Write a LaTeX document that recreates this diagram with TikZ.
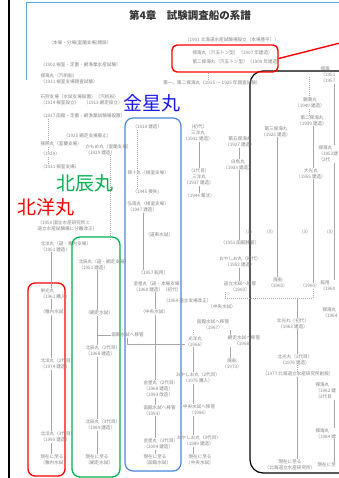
\documentclass[tikz,border=0pt]{standalone}
\usepackage{fontspec}
\newfontfamily\jp{Noto Sans CJK JP}
\usetikzlibrary{arrows.meta}
\definecolor{tc}{HTML}{858585}
\definecolor{lc}{HTML}{A6A6A6}
\definecolor{gr}{HTML}{00B050}
\definecolor{bl}{HTML}{4A86D8}
\definecolor{fb}{HTML}{55AAEE}
\definecolor{kb}{HTML}{1A1AE6}
\begin{document}
\begin{tikzpicture}[x=1pt,y=-1pt,
  t/.style={font=\jp\fontsize{4.6}{6}\selectfont, text=tc, inner sep=0.3pt, align=center},
  tl/.style={t, anchor=west, align=left},
  ln/.style={draw=lc, line width=0.9pt},
  dl/.style={draw=lc, line width=0.8pt, dash pattern=on 1pt off 1pt},
  big/.style={font=\jp\fontsize{19}{19}\selectfont, inner sep=0},
  boxs/.style={rounded corners=8pt, inner sep=0}]
\path[use as bounding box, fill=white] (0,0) rectangle (338,478);
% page frame
\coordinate (fa) at (9,0); \coordinate (fz) at (9,478);
\draw[line width=2pt] (fa) -- (fz);
\coordinate (p1) at (26.5,80); \coordinate (p2) at (26.5,2.5); \coordinate (p3) at (340,2.5);
\draw[fb, line width=1.2pt] (p1) -- (p2) -- (p3);
% coloured boxes
\node[draw=black, line width=1.2pt, boxs, rounded corners=13pt, minimum width=112pt, minimum height=402pt] (kbox) at (306,272) {};
\node[draw=bl, line width=1.2pt, boxs, minimum width=56pt, minimum height=353pt] (bbox) at (153,294.5) {};
\node[draw=gr, line width=1.3pt, boxs, minimum width=48pt, minimum height=240pt] (gbox) at (96,357) {};
\node[draw=red, line width=1.3pt, boxs, rounded corners=7pt, minimum width=37pt, minimum height=193pt] (rbox2) at (46.5,379.5) {};
\node[draw=red, line width=1.4pt, boxs, rounded corners=5pt, minimum width=106pt, minimum height=27pt] (rbox) at (225,58.5) {};
% big labels
\node[big, text=kb] (lk) at (152,103) {金星丸};
\node[big, text=gr] (lh) at (85,183) {北辰丸};
\node[big, text=red] (ly) at (46,207) {北洋丸};
% title and top
\node[font=\jp\bfseries\fontsize{10.5}{11}\selectfont, text=black!80, inner sep=0] (title) at (190,15) {第4章　試験調査船の系譜};
\node[t] (n1901) at (232,40) {（1901 北海道水産試験場設立（本場豊平））};
\node[tl, font=\jp\fontsize{4.6}{9}\selectfont] (tan) at (192,57.5) {探海丸（汽五トン型）（1907 年建造）\\第二探海丸（汽五トン型）（1909 年建造）};
\node[t] (d12) at (212,83) {第一、第二探海丸（1915 ～ 1925 年調査試験）};
% left column
\node[tl] (L1) at (48,43) {（本場・分場(室蘭支場)開設）};
\node[tl] (L2) at (40,65) {（1902 根室・定置・網漁業水産試験）};
\node[tl] (L3) at (40,78.5) {探海丸（汽帆船）\\（1911 根室支場調査試験）};
\node[tl] (L4) at (40,100) {石狩支場（水試支場設置）（汽帆船）\\（1914 根室設立）　（1913 網走設立）};
\node[tl] (L5) at (40,116) {（1917 函館・定置・網漁業試験場設置）};
\node[tl] (L6a) at (40,144) {探照丸（室蘭支場）};
\node[tl] (L6b) at (40,154) {（1929）};
\node[tl] (L6c) at (40,167) {（1931 根室支場）};
\node[tl] (L6d) at (63,136) {（1925 網走支場廃止）};
\node[tl] (L6e) at (85,149.5) {かもめ丸（室蘭支場）\\（1929 建造）};
\node[tl] (L7) at (37,226) {（1950 国立水産研究所と\\道立水産試験場に分離改正）};
\node[tl] (L8) at (40,246.5) {北洋丸（道・稚内支場）\\（1951 建造）};
\node[tl] (L9) at (40,293.5) {栄光丸\\（1961 購入）};
\node[tl] (L10) at (40,312) {（稚内水試）};
\node[tl] (L11) at (40,364) {北洋丸（2代目）\\（1974 建造）};
\node[tl] (L12) at (40,437) {北洋丸（3代目）\\（1995 建造）};
\node[tl] (L13) at (40,460) {現在に至る\\（稚内水試）};
% green column
\node[tl] (G1) at (78,264.5) {北辰丸（道・網走支場）\\（1951 建造）};
\node[tl] (G2) at (85,313) {（網走水試）};
\node[tl] (G3) at (85,351) {北辰丸（2代目）\\（1968 建造）};
\node[tl] (G4) at (85,425) {北辰丸（3代目）\\（1989 建造）};
\node[tl] (G5) at (85,460) {現在に至る\\（網走水試）};
\node[tl] (HK1) at (111,335) {函館水試へ移管};
% blue column
\node[tl] (B1) at (132,127) {（1918 建造）};
\node[tl] (B2) at (127,173) {探十丸（根室支場）};
\node[tl] (B3) at (132,192) {（1945 喪失）};
\node[tl] (B4) at (127,207) {弘南丸（根室支場）\\（1947 建造）};
\node[tl] (B5) at (145,235) {（道東水試）};
\node[tl] (B6) at (138,273) {（1957 転用）};
\node[tl] (B7) at (133,286.5) {金星丸（道・本場支場）\\（1960 建造）（初代）};
\node[tl] (B8) at (163,301) {（1964 道立支場改正）};
\node[tl] (B9) at (140,312) {（中央水試）};
\node[tl] (B10) at (143,389) {金星丸（2代目）\\（1968 建造）\\（1993 改造）};
\node[tl] (B11) at (143,410.5) {函館水試へ移管\\（1993）};
\node[tl] (B12) at (143,444) {金星丸（3代目）\\（2004 建造）};
\node[tl] (B13) at (143,460) {現在に至る\\（函館水試）};
% middle column
\node[t] (M1) at (198,133) {（初代）\\三洋丸\\（1932 建造）};
\node[t] (M2) at (199,177) {（2代目）\\三洋丸\\（1937 建造）};
\node[t] (M3) at (200,196) {（1944 撃沈）};
\node[t] (M4) at (240,142) {第五探海丸\\（1927 建造）};
\node[t] (M5) at (238,164.5) {白鳥丸\\（1933 建造）};
\node[t] (M6) at (240,243) {（1951 函館移管）};
\node[t] (M7) at (240,262) {おやしお丸（初代）\\（1952 建造）};
\node[t] (M8) at (240,286.5) {道立水試へ移管\\（1960）};
\node[t] (M9) at (222,307) {（中央水試）};
\node[t] (M10) at (213,324.5) {函館水試へ移管\\（1967）};
\node[t] (M11) at (195,341.5) {光洋丸\\（1966）};
\node[t] (M12) at (244,341) {網走水試へ移管\\（1968）};
\node[t] (M14) at (232,364) {廃船\\（1973）};
\node[t] (M13) at (198,378) {おやしお丸（2代目）\\（1976 購入）};
\node[t] (M15) at (199,410) {中央水試へ移管\\（1986）};
\node[t] (M16) at (199,441) {おやしお丸（3代目）\\（1989 建造）};
\node[t] (M17) at (200,460) {現在に至る\\（中央水試）};
% black box contents
\node[tl] (K1) at (320,75) {探海\\（1951\\（1957};
\node[t] (K2) at (310,103) {親潮丸\\（1949 建造）};
\node[t] (K3) at (312,120.5) {第二探海丸\\（1939 建造）};
\node[t] (K4) at (276,131.5) {第三探海丸\\（1925 建造）};
\node[t] (K5) at (311,173.5) {大光丸\\（1955 建造）};
\node[tl] (K6) at (318,154) {探海丸\\（1952建\\（2代};
\node[t] (K7) at (278,283) {廃船\\（1960）};
\node[t] (K8) at (310,286) {（1960）};
\node[tl] (K8b) at (320,286) {転用\\（1960};
\node[t] (K9) at (293,323.5) {北光丸（初代）\\（1963 建造）};
\node[t] (K10) at (295,359.5) {北光丸（2代目）\\（1976 建造）};
\node[tl] (K11) at (262,374) {（1977 北海道立水産研究所創設）};
\node[t] (K12) at (290,465) {現在に至る\\（北海道立水産研究所）};
\node[tl] (K13) at (322,313) {探海丸\\（1964};
\node[tl] (K14) at (315,391) {探海丸\\（1962 建\\（2代目};
\node[tl] (K15) at (315,433.5) {探海丸\\（1984 建};
\node[tl] (K16) at (317,465) {現在に至};
\node[t] (s1) at (249,232) {(3)};
\node[t] (s2) at (270,232) {(3)};
\node[t] (s3) at (305,232) {(3)};
\node[t] (s4) at (330,232) {(3)};
% x positions of lines
\coordinate (xL) at (51,0); \coordinate (xL0) at (48,0); \coordinate (x110) at (110,0);
\coordinate (xG) at (97,0); \coordinate (xB1) at (137,0); \coordinate (xB2) at (143,0);
\coordinate (xB3) at (155,0); \coordinate (x208) at (208,0); \coordinate (xM1) at (199,0);
\coordinate (xM2) at (239,0); \coordinate (xM3) at (193,0); \coordinate (xM4) at (230,0);
\coordinate (xK1) at (309,0); \coordinate (xK2) at (313,0); \coordinate (xK3) at (277,0);
\coordinate (xK4) at (297,0); \coordinate (xK5) at (334,0);
% connectors
\draw[dl] (rbox.south -| x208) -- (d12.north -| x208);
\draw[dl] (L5.south -| xL0) -- (L6a.north -| xL0);
\draw[dl] (L6a.south -| xL0) -- (L6b.north -| xL0);
\draw[dl] (L6b.south -| xL0) -- (L6c.north -| xL0);
\coordinate (e110) at (110,240);
\draw[dl] (L6e.south -| x110) -- (e110);
\draw[ln] (L8.south -| xL) -- (L9.north -| xL);
\draw[ln] (L9.south -| xL) -- (L10.north -| xL);
\draw[ln] (L10.south -| xL) -- (L11.north -| xL);
\draw[ln] (L11.south -| xL) -- (L12.north -| xL);
\draw[ln] (L12.south -| xL) -- (L13.north -| xL);
\draw[ln] (G1.south -| xG) -- (G2.north -| xG);
\draw[ln] (G2.south -| xG) -- (G3.north -| xG);
\draw[ln] (G3.south -| xG) -- (G4.north -| xG);
\draw[ln] (G4.south -| xG) -- (G5.north -| xG);
\draw[ln] (HK1.west -| xG) -- (HK1.west);
\coordinate (hk2) at (127,344);
\draw[ln] (HK1.south -| hk2) -- (hk2) -- (hk2 -| M11.west);
\draw[dl] (B1.south -| xB1) -- (B2.north -| xB1);
\draw[dl] (B2.south -| xB1) -- (B3.north -| xB1);
\draw[ln] (B4.south -| xB2) -- (B6.north -| xB2);
\draw[ln] (B7.south -| xB3) -- (B9.north -| xB3);
\draw[ln] (B9.south -| xB3) -- (B10.north -| xB3);
\draw[ln] (B10.south -| xB3) -- (B11.north -| xB3);
\draw[ln] (B11.south -| xB3) -- (B12.north -| xB3);
\draw[ln] (B12.south -| xB3) -- (B13.north -| xB3);
\draw[ln] (M1.south -| xM1) -- (M2.north -| xM1);
\draw[ln] (M2.south -| xM1) -- (M3.north -| xM1);
\draw[ln] (M4.south -| xM2) -- (M5.north -| xM2);
\draw[ln] (M5.south -| xM2) -- (M6.north -| xM2);
\draw[ln] (M7.south -| xM2) -- (M8.north -| xM2);
\draw[ln] (M10.south -| xM4) -- (M12.north -| xM4);
\draw[ln] (M12.south -| xM4) -- (M14.north -| xM4);
\draw[dl] (M10.south -| xM3) -- (M11.north -| xM3);
\draw[ln] (M11.south -| xM3) -- (M13.north -| xM3);
\draw[ln] (M13.south -| xM3) -- (M15.north -| xM3);
\draw[ln] (M15.south -| xM3) -- (M16.north -| xM3);
\draw[ln] (M16.south -| xM3) -- (M17.north -| xM3);
\coordinate (dh1) at (225,298); \coordinate (dh2) at (313,298);
\draw[dl] (M8.south -| dh1) -- (dh1) -- (dh2) -- (K8.south -| dh2);
\draw[ln] (dh1 -| xK4) -- (K9.north -| xK4);
\coordinate (k0) at (309,77);
\draw[dl] (k0) -- (K2.north -| xK1);
\draw[dl] (K2.south -| xK1) -- (K3.north -| xK1);
\draw[ln] (K3.south -| xK2) -- (K5.north -| xK2);
\draw[ln] (K5.south -| xK2) -- (K8.north -| xK2);
\draw[ln] (K4.south -| xK3) -- (K7.north -| xK3);
\draw[ln] (K1.south -| xK5) -- (K6.north -| xK5);
\draw[ln] (K6.south -| xK5) -- (K8b.north -| xK5);
\draw[ln] (K9.south -| xK4) -- (K10.north -| xK4);
\draw[dl] (K10.south -| xK4) -- (K11.north -| xK4);
\draw[ln] (K11.south -| xK4) -- (K12.north -| xK4);
\draw[ln] (K14.south -| xK5) -- (K15.north -| xK5);
\draw[ln] (K15.south -| xK5) -- (K16.north -| xK5);
\coordinate (rl) at (340,43);
\draw[red, line width=1.4pt] (rbox.east) -- (rl);
\end{tikzpicture}
\end{document}
